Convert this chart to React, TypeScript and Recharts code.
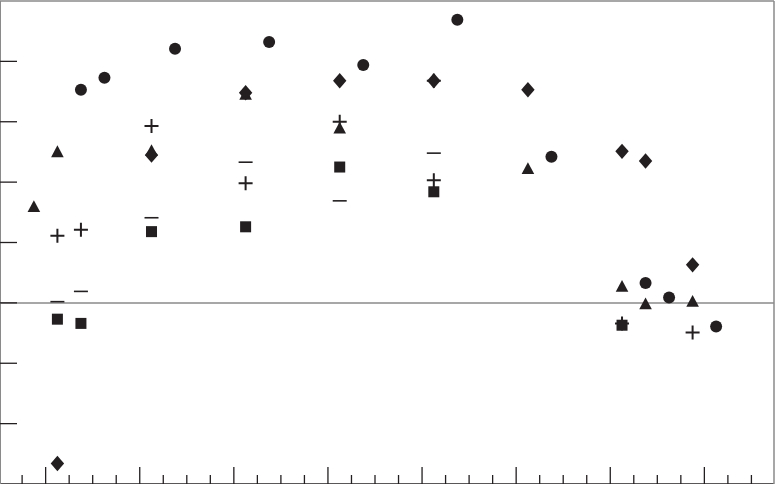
import React from "react";
import {
  ScatterChart,
  Scatter,
  XAxis,
  YAxis,
  ReferenceLine,
} from "recharts";

// marker positions (x in minor-tick units, y in major-tick units)
const triangleX = [1.5, 2.5, 6.5, 10.5, 14.5, 22.5, 26.5, 27.5, 29.5];
const triangleY = [1.6, 2.51, 2.53, 3.46, 2.9, 2.23, 0.28, -0.01, 0.03];

const circleX = [3.5, 4.5, 7.5, 11.5, 15.5, 19.5, 23.5, 27.5, 28.5, 30.5];
const circleY = [3.53, 3.73, 4.21, 4.32, 3.94, 4.69, 2.42, 0.33, 0.09, -0.39];

const diamondX = [2.5, 6.5, 10.5, 14.5, 18.5, 22.5, 26.5, 27.5, 29.5];
const diamondY = [-2.66, 2.45, 3.48, 3.68, 3.68, 3.53, 2.51, 2.35, 0.63];

const plusX = [2.5, 3.5, 6.5, 10.5, 14.5, 18.5, 18.5, 26.5, 29.5];
const plusY = [1.11, 1.21, 2.93, 1.98, 3.0, 3.68, 2.03, -0.34, -0.49];

const dashX = [2.5, 3.5, 6.5, 10.5, 14.5, 18.5];
const dashY = [0.02, 0.19, 1.41, 2.33, 1.69, 2.48];

const squareX = [2.5, 3.5, 6.5, 10.5, 14.5, 18.5, 26.5];
const squareY = [-0.27, -0.34, 1.18, 1.26, 2.25, 1.84, -0.37];

const majorXTicks = [2, 6, 10, 14, 18, 22, 26, 30];
const minorXTicks = [1, 3, 4, 5, 7, 8, 9, 11, 12, 13, 15, 16, 17, 19, 20, 21, 23, 24, 25, 27, 28, 29, 31, 32];
const yTicks = [-2, -1, 0, 1, 2, 3, 4];

const allXTicks = [...majorXTicks, ...minorXTicks].sort((a, b) => a - b);

const X_DOMAIN: [number, number] = [0.06, 32.96];
const Y_DOMAIN: [number, number] = [-3, 5];

const INK = "#231f20";
const FRAME = "#8a8a8a";

const toPoints = (xs: number[], ys: number[]) => xs.map((x, i) => ({ x, y: ys[i] }));

const Triangle = (p: any) => (
  <path
    d={`M${p.cx},${p.cy - 6} L${p.cx + 6.3},${p.cy + 5.8} L${p.cx - 6.3},${p.cy + 5.8} Z`}
    fill={INK}
  />
);
const Circle = (p: any) => <circle cx={p.cx} cy={p.cy} r={6} fill={INK} />;
const Diamond = (p: any) => (
  <path
    d={`M${p.cx},${p.cy - 7.7} L${p.cx + 6.7},${p.cy} L${p.cx},${p.cy + 7.7} L${p.cx - 6.7},${p.cy} Z`}
    fill={INK}
  />
);
const Plus = (p: any) => (
  <path
    d={`M${p.cx - 7},${p.cy} H${p.cx + 7} M${p.cx},${p.cy - 7} V${p.cy + 7}`}
    stroke={INK}
    strokeWidth={2}
    fill="none"
  />
);
const Dash = (p: any) => (
  <path d={`M${p.cx - 7},${p.cy} H${p.cx + 7}`} stroke={INK} strokeWidth={1.6} fill="none" />
);
const Square = (p: any) => (
  <rect x={p.cx - 5.5} y={p.cy - 5.5} width={11} height={11} fill={INK} />
);

// inward tick marks on the bottom axis: long at majors, short at minors
const XTick = (p: any) => {
  const len = majorXTicks.includes(p.payload.value) ? 17 : 9;
  return <line x1={p.x} x2={p.x} y1={p.y} y2={p.y - len} stroke={INK} strokeWidth={1.3} />;
};

const noLabel = () => "";

export default function App() {
  return (
    <div style={{ position: "absolute", left: 0, top: 0, background: "#fff" }}>
      <ScatterChart width={775} height={484} margin={{ top: 0, right: 0, bottom: 0, left: 0 }}>
        <XAxis
          xAxisId="main"
          type="number"
          dataKey="x"
          domain={X_DOMAIN}
          allowDataOverflow
          ticks={allXTicks}
          interval={0}
          height={1}
          mirror
          tickSize={0}
          tickMargin={0}
          tick={XTick}
          tickLine={false}
          axisLine={{ stroke: INK, strokeWidth: 1.6 }}
        />
        <XAxis
          xAxisId="top"
          orientation="top"
          type="number"
          domain={X_DOMAIN}
          height={1}
          tick={false}
          tickLine={false}
          axisLine={{ stroke: FRAME, strokeWidth: 1.5 }}
        />
        <YAxis
          yAxisId="main"
          type="number"
          dataKey="y"
          domain={Y_DOMAIN}
          allowDataOverflow
          ticks={yTicks}
          interval={0}
          width={1}
          mirror
          tickSize={17}
          tickFormatter={noLabel}
          axisLine={{ stroke: FRAME, strokeWidth: 2 }}
          tickLine={{ stroke: INK, strokeWidth: 1.3 }}
        />
        <YAxis
          yAxisId="right"
          orientation="right"
          type="number"
          domain={Y_DOMAIN}
          width={1}
          tick={false}
          tickLine={false}
          axisLine={{ stroke: FRAME, strokeWidth: 1.5 }}
        />
        <ReferenceLine xAxisId="main" yAxisId="main" y={0} stroke={FRAME} strokeWidth={1.5} />
        <Scatter xAxisId="main" yAxisId="main" data={toPoints(triangleX, triangleY)} shape={Triangle} isAnimationActive={false} />
        <Scatter xAxisId="main" yAxisId="main" data={toPoints(circleX, circleY)} shape={Circle} isAnimationActive={false} />
        <Scatter xAxisId="main" yAxisId="main" data={toPoints(diamondX, diamondY)} shape={Diamond} isAnimationActive={false} />
        <Scatter xAxisId="main" yAxisId="main" data={toPoints(plusX, plusY)} shape={Plus} isAnimationActive={false} />
        <Scatter xAxisId="main" yAxisId="main" data={toPoints(dashX, dashY)} shape={Dash} isAnimationActive={false} />
        <Scatter xAxisId="main" yAxisId="main" data={toPoints(squareX, squareY)} shape={Square} isAnimationActive={false} />
      </ScatterChart>
    </div>
  );
}
